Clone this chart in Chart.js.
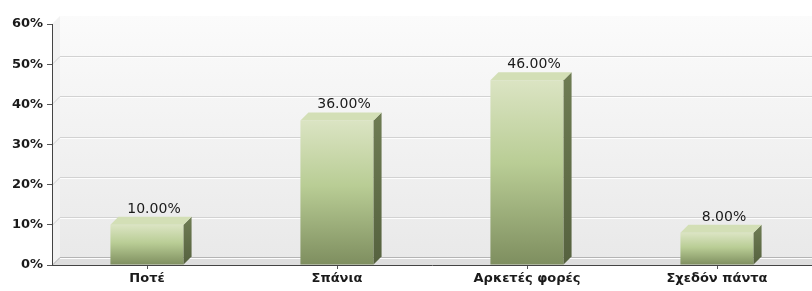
<!DOCTYPE html>
<html>
<head>
<meta charset="utf-8">
<script src="https://cdn.jsdelivr.net/npm/chart.js@4/dist/chart.umd.min.js"></script>
<style>
  html, body { margin: 0; padding: 0; background: #fff; }
  #wrap { width: 812px; height: 291px; }
</style>
</head>
<body>
<div id="wrap"><canvas id="myChart"></canvas></div>
<script>
const categories = ['Ποτέ', 'Σπάνια', 'Αρκετές φορές', 'Σχεδόν πάντα'];
const percentages = [10, 36, 46, 8];
const yMax = 60;
const yStep = 10;

const depth = 8;

// walls, floor and back gridlines
const wallPlugin = {
  id: 'walls',
  beforeDraw(chart) {
    const { ctx, chartArea: a, scales } = chart;
    const d = depth;
    ctx.save();
    let g = ctx.createLinearGradient(0, a.top - d, 0, a.bottom - d);
    g.addColorStop(0, '#fbfbfb');
    g.addColorStop(1, '#e9e9e9');
    ctx.fillStyle = g;
    ctx.fillRect(a.left + d, a.top - d, a.right - a.left - d, a.bottom - a.top);

    // left wall
    ctx.fillStyle = '#f2f2f2';
    ctx.beginPath();
    ctx.moveTo(a.left, a.top);
    ctx.lineTo(a.left + d, a.top - d);
    ctx.lineTo(a.left + d, a.bottom - d);
    ctx.lineTo(a.left, a.bottom);
    ctx.closePath();
    ctx.fill();

    // floor
    ctx.fillStyle = '#dedede';
    ctx.beginPath();
    ctx.moveTo(a.left, a.bottom);
    ctx.lineTo(a.left + d, a.bottom - d);
    ctx.lineTo(a.right, a.bottom - d);
    ctx.lineTo(a.right, a.bottom);
    ctx.closePath();
    ctx.fill();

    // gridlines
    ctx.lineWidth = 1;
    for (let v = 0; v < yMax; v += yStep) {
      const y = Math.round(scales.y.getPixelForValue(v)) + 0.5;
      ctx.strokeStyle = v === 0 ? '#b4b4b4' : '#d2d2d2';
      ctx.beginPath();
      ctx.moveTo(a.left, y);
      ctx.lineTo(a.left + d, y - d);
      ctx.lineTo(a.right, y - d);
      ctx.stroke();
      ctx.strokeStyle = '#fdfdfd';
      ctx.beginPath();
      ctx.moveTo(a.left + d, y - d + 1);
      ctx.lineTo(a.right, y - d + 1);
      ctx.stroke();
    }
    ctx.restore();
  }
};

// side and top faces plus value labels
const barPlugin = {
  id: 'bar3d',
  afterDatasetsDraw(chart) {
    const { ctx } = chart;
    const d = depth;
    const meta = chart.getDatasetMeta(0);
    ctx.save();
    meta.data.forEach((bar, i) => {
      const p = bar.getProps(['x', 'y', 'base', 'width'], true);
      const xl = p.x - p.width / 2;
      const xr = p.x + p.width / 2;
      // side
      let g = ctx.createLinearGradient(0, p.y - d, 0, p.base);
      g.addColorStop(0, '#6e7c53');
      g.addColorStop(1, '#56623f');
      ctx.fillStyle = g;
      ctx.beginPath();
      ctx.moveTo(xr, p.y);
      ctx.lineTo(xr + d, p.y - d);
      ctx.lineTo(xr + d, p.base - d);
      ctx.lineTo(xr, p.base);
      ctx.closePath();
      ctx.fill();
      // top
      ctx.fillStyle = '#d3dfb6';
      ctx.beginPath();
      ctx.moveTo(xl, p.y);
      ctx.lineTo(xl + d, p.y - d);
      ctx.lineTo(xr + d, p.y - d);
      ctx.lineTo(xr, p.y);
      ctx.closePath();
      ctx.fill();
      // label
      ctx.fillStyle = '#1a1a1a';
      ctx.font = '14px "DejaVu Sans"';
      ctx.textAlign = 'center';
      ctx.textBaseline = 'alphabetic';
      ctx.fillText(percentages[i].toFixed(2) + '%', p.x + 7, p.y - 12);
    });
    ctx.restore();
  }
};

const frontFill = (context) => {
  const chart = context.chart;
  if (!chart.chartArea || context.raw == null) return '#b8cc93';
  const yTop = chart.scales.y.getPixelForValue(context.raw);
  const yBot = chart.scales.y.getPixelForValue(0);
  const g = chart.ctx.createLinearGradient(0, yTop, 0, yBot);
  g.addColorStop(0, '#dbe4c3');
  g.addColorStop(0.45, '#b9cd95');
  g.addColorStop(1, '#7e8e5f');
  return g;
};

const ctx = document.getElementById('myChart');

const myChart = new Chart(ctx, {
  type: 'bar',
  data: {
    labels: categories,
    datasets: [{
      data: percentages,
      backgroundColor: frontFill,
      borderWidth: 0,
      barPercentage: 0.385,
      categoryPercentage: 1
    }]
  },
  options: {
    responsive: true,
    maintainAspectRatio: false,
    animation: false,
    layout: { padding: { top: 24, left: 0, right: 0, bottom: 0 } },
    plugins: {
      legend: { display: false },
      tooltip: { enabled: false }
    },
    scales: {
      y: {
        min: 0,
        max: yMax,
        afterFit: (s) => { s.width = 52; },
        ticks: {
          stepSize: yStep,
          padding: 4,
          color: '#1a1a1a',
          font: { family: 'DejaVu Sans', size: 13, weight: 'bold' },
          callback: (v) => v + '%'
        },
        grid: { drawOnChartArea: false, tickLength: 5, color: '#555' },
        border: { display: true, color: '#444' }
      },
      x: {
        afterFit: (s) => { s.height = 26; },
        ticks: {
          padding: 2,
          color: '#1a1a1a',
          font: { family: 'DejaVu Sans', size: 13, weight: 'bold' }
        },
        grid: { drawOnChartArea: false, tickLength: 4, color: '#555', offset: false },
        border: { display: true, color: '#444' }
      }
    }
  },
  plugins: [wallPlugin, barPlugin]
});
</script>
</body>
</html>
